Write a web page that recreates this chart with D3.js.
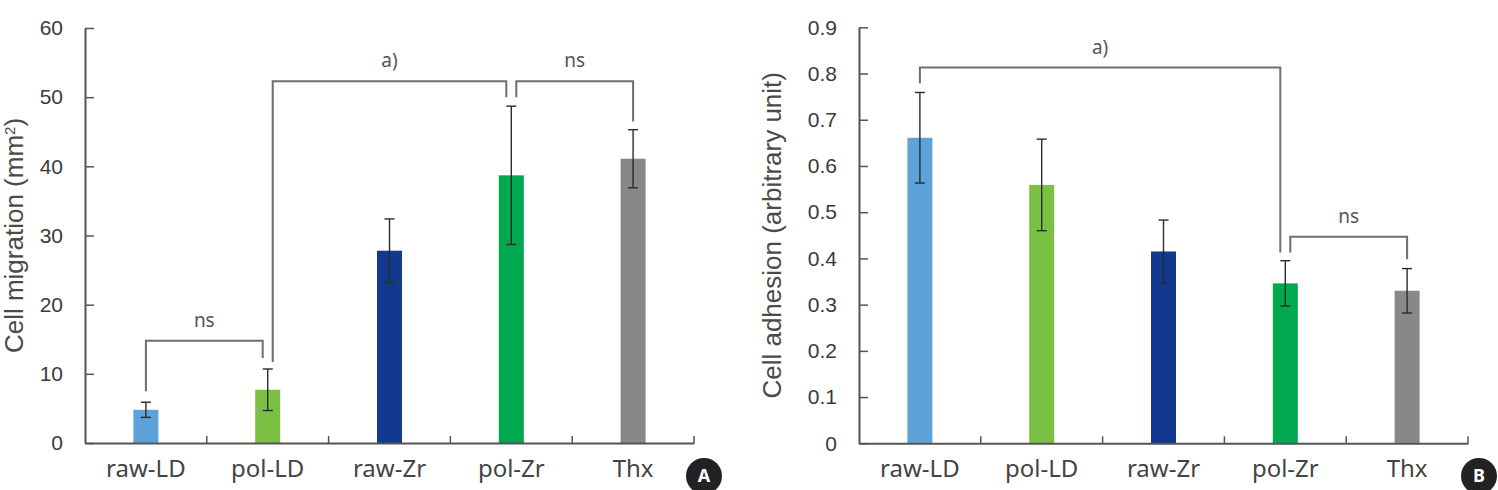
<!DOCTYPE html>
<html>
<head>
<meta charset="utf-8">
<script src="https://cdn.jsdelivr.net/npm/d3@7"></script>
<style>
  body { margin: 0; background: #fff; }
  svg { display: block; }
</style>
</head>
<body>
<div id="chart"></div>
<script>
var width = 1498;
var height = 490;

// data
var groups = ["raw-LD", "pol-LD", "raw-Zr", "pol-Zr", "Thx"];
var barColors = ["#5da3d9", "#7ac143", "#10398f", "#00a84f", "#87888a"];

var migration = [4.8, 7.7, 27.8, 38.7, 41.1];
var migrationErr = [1.1, 3.0, 4.6, 10.0, 4.2];
var migrationTicks = [0, 10, 20, 30, 40, 50, 60];

var adhesion = [0.661, 0.559, 0.415, 0.346, 0.330];
var adhesionErr = [0.098, 0.099, 0.068, 0.049, 0.048];
var adhesionTicks = [0, 0.1, 0.2, 0.3, 0.4, 0.5, 0.6, 0.7, 0.8, 0.9];

// significance brackets: from group a to group b, bar at y, legs down to ya / yb
var migrationBrackets = [
  {a: "raw-LD", b: "pol-LD", y: 14.8, ya: 7.5, yb: 12.3, label: "ns"},
  {a: "pol-LD", b: "pol-Zr", y: 52.3, ya: 11.7, yb: 50.0, label: "a)"},
  {a: "pol-Zr", b: "Thx", y: 52.3, ya: 50.0, yb: 46.5, label: "ns"}
];
var adhesionBrackets = [
  {a: "raw-LD", b: "pol-Zr", y: 0.813, ya: 0.779, yb: 0.413, label: "a)"},
  {a: "pol-Zr", b: "Thx", y: 0.447, ya: 0.413, yb: 0.398, label: "ns"}
];

var svg = d3.select("#chart").append("svg")
  .attr("width", width)
  .attr("height", height);

var color = d3.scaleOrdinal().domain(groups).range(barColors);

function panel(opts) {
  var g = svg.append("g").attr("transform", "translate(" + opts.left + "," + opts.top + ")");
  var w = opts.w, h = opts.h;

  var x = d3.scaleBand().domain(groups).range([0, w]).padding(0);
  var y = d3.scaleLinear().domain([0, opts.ymax]).range([h, 0]);
  var barW = 25;
  var cx = function(d) { return x(d) + x.bandwidth() / 2; };

  // bars
  g.selectAll("rect.bar")
    .data(groups)
    .enter().append("rect")
    .attr("class", "bar")
    .attr("x", function(d) { return cx(d) - barW / 2; })
    .attr("width", barW)
    .attr("y", function(d, i) { return y(opts.values[i]); })
    .attr("height", function(d, i) { return h - y(opts.values[i]); })
    .attr("fill", function(d) { return color(d); });

  // error bars
  var eb = g.selectAll("g.err")
    .data(groups)
    .enter().append("g")
    .attr("class", "err")
    .attr("stroke", "#2b2b2b")
    .attr("stroke-width", 1.4);
  eb.append("line")
    .attr("x1", cx).attr("x2", cx)
    .attr("y1", function(d, i) { return y(opts.values[i] + opts.errs[i]); })
    .attr("y2", function(d, i) { return y(opts.values[i] - opts.errs[i]); });
  [1, -1].forEach(function(s) {
    eb.append("line")
      .attr("x1", function(d) { return cx(d) - 5; })
      .attr("x2", function(d) { return cx(d) + 5; })
      .attr("y1", function(d, i) { return y(opts.values[i] + s * opts.errs[i]); })
      .attr("y2", function(d, i) { return y(opts.values[i] + s * opts.errs[i]); });
  });

  // y axis, ticks pointing inward
  var yAxis = d3.axisLeft(y)
    .tickValues(opts.ticks)
    .tickFormat(function(d) { return String(d); })
    .tickSizeInner(-9)
    .tickSizeOuter(0)
    .tickPadding(22);
  var ya = g.append("g").call(yAxis);
  ya.select(".domain").attr("stroke", "#555").attr("stroke-width", 2);
  ya.selectAll(".tick line").attr("stroke", "#555").attr("stroke-width", 1.5);
  ya.selectAll(".tick text")
    .attr("fill", "#3a3a3a")
    .style("font-family", "'Liberation Sans', Arial, sans-serif")
    .style("font-size", "21px");

  // x axis, labels at the centre, ticks at the category edges
  var xAxis = d3.axisBottom(x).tickSize(0).tickSizeOuter(0).tickPadding(0);
  var xa = g.append("g").attr("transform", "translate(0," + h + ")").call(xAxis);
  xa.select(".domain").attr("stroke", "#555").attr("stroke-width", 2);
  xa.selectAll(".tick text")
    .attr("y", 34)
    .attr("dy", 0)
    .attr("fill", "#444")
    .style("font-family", "'Noto Sans', sans-serif")
    .style("font-size", "24px");
  var edges = groups.slice(1).map(function(d) { return x(d); }).concat([w]);
  g.selectAll("line.xtick")
    .data(edges)
    .enter().append("line")
    .attr("class", "xtick")
    .attr("x1", function(d) { return d; }).attr("x2", function(d) { return d; })
    .attr("y1", h).attr("y2", h - 7)
    .attr("stroke", "#555").attr("stroke-width", 1.5);

  // axis title
  g.append("text")
    .attr("transform", "translate(" + opts.titleX + "," + (h / 2) + ") rotate(-90)")
    .attr("text-anchor", "middle")
    .attr("fill", "#4a4a4a")
    .style("font-family", "'Liberation Sans', Arial, sans-serif")
    .style("font-size", "26px")
    .text(opts.title)
    .call(function(t) {
      if (opts.sup) {
        t.text(null);
        t.append("tspan").text(opts.title);
        t.append("tspan").attr("dy", -8).style("font-size", "15px").text(opts.sup);
        t.append("tspan").attr("dy", 8).text(")");
      }
    });

  // brackets
  var count = {};
  opts.brackets.forEach(function(b) {
    count[b.a] = (count[b.a] || 0) + 1;
    count[b.b] = (count[b.b] || 0) + 1;
  });
  opts.brackets.forEach(function(b) {
    var xa0 = cx(b.a) + (count[b.a] > 1 ? 5 : 0);
    var xb0 = cx(b.b) - (count[b.b] > 1 ? 5 : 0);
    var path = d3.path();
    path.moveTo(xa0, y(b.ya));
    path.lineTo(xa0, y(b.y));
    path.lineTo(xb0, y(b.y));
    path.lineTo(xb0, y(b.yb));
    g.append("path")
      .attr("d", path.toString())
      .attr("fill", "none")
      .attr("stroke", "#6e6e6e")
      .attr("stroke-width", 2);
    g.append("text")
      .attr("x", (xa0 + xb0) / 2)
      .attr("y", y(b.y) - 14)
      .attr("text-anchor", "middle")
      .attr("fill", "#555")
      .style("font-family", "'Noto Sans', sans-serif")
      .style("font-size", "19px")
      .text(b.label);
  });

  // panel letter
  var badge = svg.append("g").attr("transform", "translate(" + opts.badge[0] + "," + opts.badge[1] + ")");
  badge.append("circle").attr("r", 18).attr("fill", "#222");
  badge.append("text")
    .attr("text-anchor", "middle")
    .attr("dy", "0.36em")
    .attr("fill", "#fff")
    .style("font-family", "'Noto Sans', sans-serif")
    .style("font-weight", "bold")
    .style("font-size", "18px")
    .text(opts.letter);
}

panel({
  left: 85, top: 28, w: 609, h: 415,
  ymax: 60, values: migration, errs: migrationErr, ticks: migrationTicks,
  brackets: migrationBrackets,
  title: "Cell migration (mm", sup: "2", titleX: -62,
  badge: [704, 476], letter: "A"
});

panel({
  left: 859, top: 27.3, w: 609, h: 416,
  ymax: 0.9, values: adhesion, errs: adhesionErr, ticks: adhesionTicks,
  brackets: adhesionBrackets,
  title: "Cell adhesion (arbitrary unit)", titleX: -78,
  badge: [1479, 476], letter: "B"
});
</script>
</body>
</html>
